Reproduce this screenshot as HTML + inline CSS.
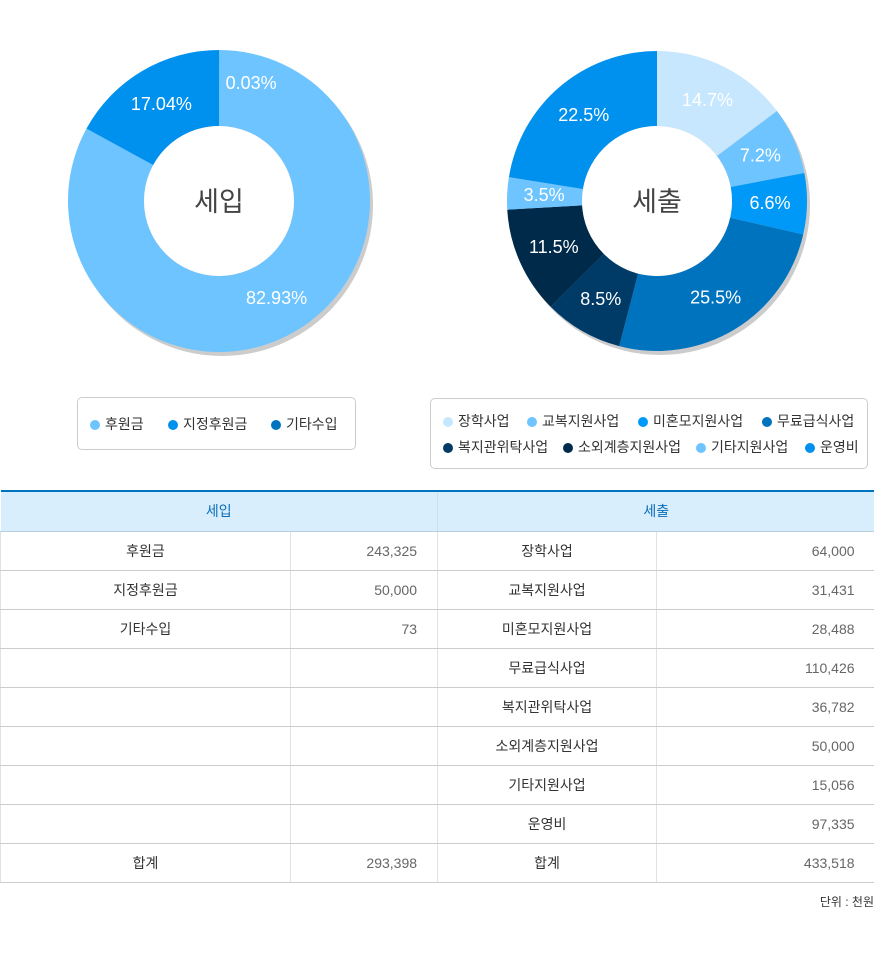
<!DOCTYPE html>
<html><head><meta charset="utf-8">
<style>
body{margin:0;width:874px;height:970px;background:#fff;font-family:"Liberation Sans","Noto Sans CJK KR",sans-serif;position:relative;overflow:hidden}
.legend{position:absolute;border:1px solid #ccc;border-radius:5px;box-sizing:border-box;font-size:14px;color:#333}
.li{position:absolute;white-space:nowrap;line-height:18px}
.li i{display:inline-block;width:10px;height:10px;border-radius:50%;margin-right:5px;vertical-align:-1px}
table{position:absolute;left:0;top:490px;width:874px;border-collapse:collapse;border-top:2px solid #0073bf;font-size:14px;table-layout:fixed}
th{height:39px;box-sizing:border-box;background:#d9eefc;color:#0a6db8;font-weight:normal;font-size:14px;border-bottom:1px solid #b7cfe0;border-left:1px solid #cfdfea}
td{height:39px;box-sizing:border-box;border-bottom:1px solid #ccc;border-left:1px solid #e2e2e2;text-align:center;color:#333;padding:0}
td.n{text-align:right;padding-right:20px;color:#666}
</style></head><body>
<svg id="pies" width="874" height="380" style="position:absolute;left:0;top:0"></svg>

<div class="legend" style="left:77px;top:397px;width:279px;height:53px">
<span class="li" style="left:12px;top:17px"><i style="background:#6dc4ff"></i>후원금</span>
<span class="li" style="left:90px;top:17px"><i style="background:#0091ef"></i>지정후원금</span>
<span class="li" style="left:193px;top:17px"><i style="background:#0073bf"></i>기타수입</span>
</div>
<div class="legend" style="left:430px;top:398px;width:438px;height:71px">
<span class="li" style="left:12px;top:13px"><i style="background:#c6e7fd"></i>장학사업</span>
<span class="li" style="left:96px;top:13px"><i style="background:#6dc4ff"></i>교복지원사업</span>
<span class="li" style="left:207px;top:13px"><i style="background:#0099f8"></i>미혼모지원사업</span>
<span class="li" style="left:331px;top:13px"><i style="background:#0073bf"></i>무료급식사업</span>
<span class="li" style="left:12px;top:39px"><i style="background:#003a66"></i>복지관위탁사업</span>
<span class="li" style="left:132px;top:39px"><i style="background:#002a4a"></i>소외계층지원사업</span>
<span class="li" style="left:265px;top:39px"><i style="background:#6dc4ff"></i>기타지원사업</span>
<span class="li" style="left:374px;top:39px"><i style="background:#0091ef"></i>운영비</span>
</div>

<table>
<colgroup><col style="width:290px"><col style="width:147px"><col style="width:219px"><col style="width:218px"></colgroup>
<tr><th colspan="2" style="border-left:none;height:40px">세입</th><th colspan="2" style="height:40px">세출</th></tr>
<tr><td>후원금</td><td class="n">243,325</td><td>장학사업</td><td class="n">64,000</td></tr>
<tr><td>지정후원금</td><td class="n">50,000</td><td>교복지원사업</td><td class="n">31,431</td></tr>
<tr><td>기타수입</td><td class="n">73</td><td>미혼모지원사업</td><td class="n">28,488</td></tr>
<tr><td></td><td></td><td>무료급식사업</td><td class="n">110,426</td></tr>
<tr><td></td><td></td><td>복지관위탁사업</td><td class="n">36,782</td></tr>
<tr><td></td><td></td><td>소외계층지원사업</td><td class="n">50,000</td></tr>
<tr><td></td><td></td><td>기타지원사업</td><td class="n">15,056</td></tr>
<tr><td></td><td></td><td>운영비</td><td class="n">97,335</td></tr>
<tr><td>합계</td><td class="n">293,398</td><td>합계</td><td class="n">433,518</td></tr>
</table>
<div style="position:absolute;right:0;top:893px;font-size:12px;color:#333">단위 : 천원</div>

<script>
const incomeCategories=["후원금","지정후원금","기타수입"];
const incomeValues=[243325,50000,73];
const incomeLabels=["82.93%","17.04%","0.03%"];
const expenseCategories=["장학사업","교복지원사업","미혼모지원사업","무료급식사업","복지관위탁사업","소외계층지원사업","기타지원사업","운영비"];
const expenseValues=[64000,31431,28488,110426,36782,50000,15056,97335];
const expenseLabels=["14.7%","7.2%","6.6%","25.5%","8.5%","11.5%","3.5%","22.5%"];
const incomeColors=["#6dc4ff","#0091ef","#0073bf"];
const expenseColors=["#c6e7fd","#6dc4ff","#0099f8","#0073bf","#003a66","#002a4a","#6dc4ff","#0091ef"];
const incomeDrawOrder=[2,0,1];
const expenseDrawOrder=[0,1,2,3,4,5,6,7];
const NS="http://www.w3.org/2000/svg";
const svg=document.getElementById('pies');
function mk(t,a){const e=document.createElementNS(NS,t);for(const k in a)e.setAttribute(k,a[k]);svg.appendChild(e);return e;}
function donut(cx,cy,R,r,vals,cols,labels,order,title,nm){
  const sh=mk('circle',{cx:cx+3,cy:cy+4,r:R,fill:'#cccccc'});
  
  
  const tot=vals.reduce((a,b)=>a+b,0);
  let a0=-Math.PI/2;
  const texts=[];
  order.forEach(i=>{
    const v=vals[i];
    const da=v/tot*2*Math.PI, a1=a0+da;
    const large=da>Math.PI?1:0;
    const p=(a,rr)=>[cx+rr*Math.cos(a),cy+rr*Math.sin(a)];
    const [x0,y0]=p(a0,R),[x1,y1]=p(a1,R),[x2,y2]=p(a1,r),[x3,y3]=p(a0,r);
    const path=mk('path',{d:`M${x0},${y0}A${R},${R} 0 ${large} 1 ${x1},${y1}L${x2},${y2}A${r},${r} 0 ${large} 0 ${x3},${y3}Z`,fill:cols[i]});
    
    
    const am=(a0+a1)/2; let [lx,ly]=p(am,113);
    if(v/tot<0.01){lx+=32;ly=cy-118;}
    texts.push([lx,ly,labels[i]]);
    a0=a1;
  });
  const hole=mk('circle',{cx:cx,cy:cy,r:r,fill:'#ffffff'});
  
  
  texts.forEach(([lx,ly,s])=>{
    const t=mk('text',{x:lx,y:ly+6,'text-anchor':'middle',fill:'#fff','font-size':18});
    t.textContent=s;
    
    
  });
  const ct=mk('text',{x:cx,y:cy+10,'text-anchor':'middle',fill:'#444','font-size':27});
  ct.textContent=title;
  
  
}
donut(219,201,151,75,incomeValues,incomeColors,incomeLabels,incomeDrawOrder,'세입','income');
donut(657,201,150,75,expenseValues,expenseColors,expenseLabels,expenseDrawOrder,'세출','expense');
</script>
</body></html>
